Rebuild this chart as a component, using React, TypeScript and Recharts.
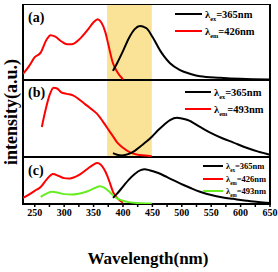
import { LineChart, Line, XAxis, YAxis, ReferenceArea } from "recharts";

// panel (a)
const aExWl = [230, 240, 250, 260, 270, 277, 285, 295, 305, 313, 325, 340, 350, 357, 363, 370, 375, 383, 390, 400];
const aExVal = [8, 18, 30, 36, 53, 59, 57, 51, 47, 47, 53, 66, 76, 80, 76, 63, 47, 22, 11, 1];
const aEmWl = [383, 390, 400, 410, 420, 429, 435, 440, 450, 463, 470, 480, 497, 515, 531, 565, 600, 650];
const aEmVal = [12, 22, 38, 55, 67, 71, 70, 68, 57, 39, 31, 22, 13, 8, 5, 3, 1.5, 0.5];

// panel (b)
const bExWl = [262, 268, 275, 282, 288, 295, 305, 315, 325, 335, 345, 356, 365, 373, 382, 390, 400, 412, 425, 437, 449];
const bExVal = [39, 60, 80, 90, 89, 84, 82, 80, 75, 69, 63, 56, 47, 38, 28, 19, 12, 6, 3, 2, 1];
const bEmWl = [383, 390, 398, 410, 420, 430, 440, 450, 460, 470, 480, 492, 500, 510, 531, 550, 570, 587, 610, 630, 650];
const bEmVal = [5, 3, 2, 4, 8, 14, 20, 27, 35, 42, 48, 51, 50, 48, 39, 31, 24, 19, 12, 7, 3];

// panel (c)
const cRedWl = [230, 240, 250, 260, 270, 281, 290, 300, 307, 315, 327, 340, 350, 356, 362, 368, 373, 378, 383, 390, 400];
const cRedVal = [13, 20, 28, 36, 52, 64, 60, 55, 54, 56, 63, 75, 84, 87, 84, 74, 61, 44, 26, 13, 3];
const cGreenWl = [260, 270, 279, 290, 300, 313, 325, 340, 352, 361, 368, 375, 383, 390, 400, 410, 425, 449];
const cGreenVal = [15, 22, 26, 24, 21, 20, 22, 27, 34, 38, 35, 28, 19, 12, 7, 4, 2, 1];
const cEmWl = [383, 390, 400, 410, 420, 430, 437, 445, 460, 475, 490, 502, 515, 531, 550, 570, 587, 610, 630, 650];
const cEmVal = [13, 22, 37, 52, 64, 72, 74, 72, 66, 57, 48, 41, 34, 26, 19, 14, 11, 7, 4, 2];

const xTicks = [250, 275, 300, 325, 350, 375, 400, 425, 450, 475, 500, 525, 550, 575, 600, 625, 650];
const band = [373, 449];

const zip = (xs: number[], ys: number[]) => xs.map((x, i) => ({ x, y: ys[i] }));

const FONT = "'Liberation Serif', 'Times New Roman', serif";

type Series = { data: { x: number; y: number }[]; color: string };

const Panel = ({
  top,
  height,
  series,
  showBand,
  bottom,
}: {
  top: number;
  height: number;
  series: Series[];
  showBand: boolean;
  bottom?: boolean;
}) => (
  <div style={{ position: "absolute", left: 0, top }}>
    <LineChart
      width={278}
      height={height + (bottom ? 20 : 0)}
      margin={{ top: 0, right: 8, bottom: bottom ? 20 : 0, left: 23 }}
    >
      <XAxis
        type="number"
        dataKey="x"
        domain={[230, 650]}
        ticks={xTicks}
        hide={!bottom}
        axisLine={false}
        tickLine={{ stroke: "#000", strokeWidth: 1.5 }}
        tickSize={3}
        tick={{ fontSize: 10, fontWeight: 700, fontFamily: FONT, fill: "#000" }}
        tickFormatter={(v: number) => (v % 50 === 0 ? String(v) : "")}
        allowDataOverflow
      />
      <YAxis type="number" domain={[0, 100]} hide allowDataOverflow />
      {showBand && (
        <ReferenceArea x1={band[0]} x2={band[1]} y1={0} y2={100} fill="#FAE396" fillOpacity={1} stroke="none" />
      )}
      {series.map((s, i) => (
        <Line
          key={i}
          data={s.data}
          dataKey="y"
          type="monotone"
          stroke={s.color}
          strokeWidth={2}
          dot={false}
          isAnimationActive={false}
        />
      ))}
      <ReferenceArea x1={230} x2={650} y1={0} y2={100} fill="none" stroke="#000" strokeWidth={2} />
    </LineChart>
  </div>
);

const Leg = ({
  x,
  y,
  len,
  color,
  sub,
  val,
  size,
}: {
  x: number;
  y: number;
  len: number;
  color: string;
  sub: string;
  val: string;
  size: number;
}) => (
  <g>
    <line x1={x} x2={x + len} y1={y} y2={y} stroke={color} strokeWidth={2} />
    <text x={x + len + 3} y={y + size * 0.35} fontFamily={FONT} fontWeight={700} fontSize={size} fill="#000">
      λ
      <tspan fontSize={size * 0.6} dy={size * 0.35}>{sub}</tspan>
      <tspan dy={-size * 0.35}>{val}</tspan>
    </text>
  </g>
);

export default function App() {
  return (
    <div style={{ position: "fixed", left: 0, top: 0, width: 278, height: 272, background: "#fff" }}>
      <Panel
        top={4}
        height={76}
        showBand
        series={[
          { data: zip(aExWl, aExVal), color: "#FF0000" },
          { data: zip(aEmWl, aEmVal), color: "#000" },
        ]}
      />
      <Panel
        top={80}
        height={77}
        showBand
        series={[
          { data: zip(bExWl, bExVal), color: "#FF0000" },
          { data: zip(bEmWl, bEmVal), color: "#000" },
        ]}
      />
      <Panel
        top={157}
        height={77}
        showBand={false}
        bottom
        series={[
          { data: zip(cRedWl, cRedVal), color: "#FF0000" },
          { data: zip(cGreenWl, cGreenVal), color: "#66EE22" },
          { data: zip(cEmWl, cEmVal), color: "#000" },
        ]}
      />
      <svg width={278} height={272} style={{ position: "absolute", left: 0, top: 0, pointerEvents: "none" }}>
        <text x={28} y={22} fontFamily={FONT} fontWeight={700} fontSize={14}>(a)</text>
        <text x={28} y={97} fontFamily={FONT} fontWeight={700} fontSize={14}>(b)</text>
        <text x={28} y={175} fontFamily={FONT} fontWeight={700} fontSize={14}>(c)</text>
        <Leg x={175} y={14} len={27} color="#000" sub="ex" val="=365nm" size={10.5} />
        <Leg x={175} y={31} len={27} color="#FF0000" sub="em" val="=426nm" size={10.5} />
        <Leg x={185} y={92} len={26} color="#000" sub="ex" val="=365nm" size={10.5} />
        <Leg x={185} y={109} len={26} color="#FF0000" sub="em" val="=493nm" size={10.5} />
        <Leg x={203} y={166} len={20} color="#000" sub="ex" val="=365nm" size={8.5} />
        <Leg x={203} y={179} len={20} color="#FF0000" sub="em" val="=426nm" size={8.5} />
        <Leg x={203} y={191} len={20} color="#66EE22" sub="em" val="=493nm" size={8.5} />
        <text x={148} y={264} textAnchor="middle" fontFamily={FONT} fontWeight={700} fontSize={17}>
          Wavelength(nm)
        </text>
        <text
          transform="translate(17,112) rotate(-90)"
          textAnchor="middle"
          fontFamily={FONT}
          fontWeight={700}
          fontSize={18}
        >
          intensity(a.u.)
        </text>
      </svg>
    </div>
  );
}
